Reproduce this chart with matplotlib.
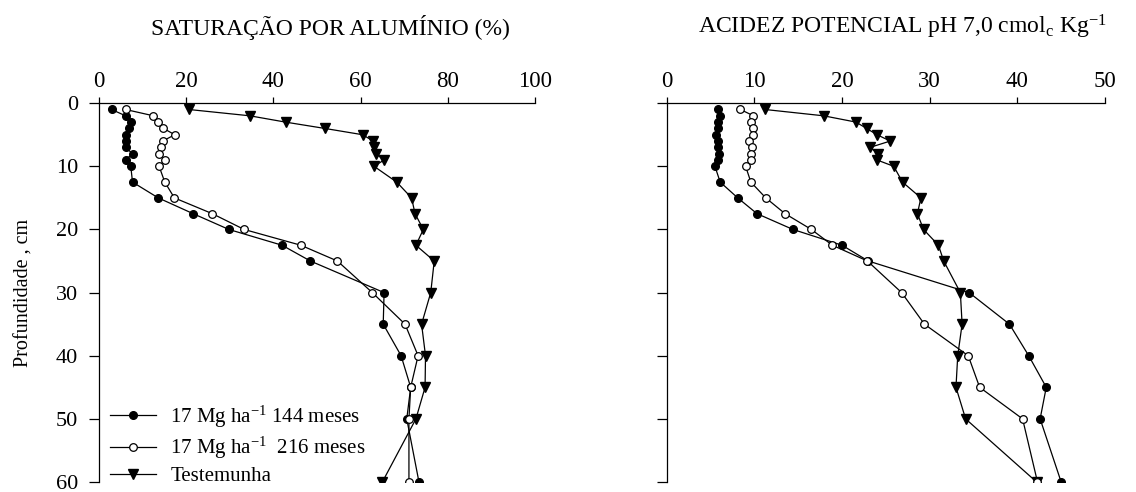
import matplotlib
matplotlib.use("Agg")
import matplotlib.pyplot as plt

plt.rcParams['font.family'] = ['Liberation Serif', 'DejaVu Serif']
plt.rcParams['mathtext.fontset'] = 'custom'
plt.rcParams['mathtext.rm'] = 'Liberation Serif'
plt.rcParams['mathtext.it'] = 'Liberation Serif:italic'

# profundidade (cm)
prof = [1, 2, 3, 4, 5, 6, 7, 8, 9, 10, 12.5, 15, 17.5, 20, 22.5, 25, 30, 35, 40, 45, 50, 60]

# saturação por alumínio (%)
sat_144 = [2.9, 6.1, 7.3, 7.0, 6.1, 6.3, 6.1, 7.7, 6.1, 7.3, 7.7, 13.6, 21.6, 29.8, 42.0, 48.5,
           65.4, 65.2, 69.3, 71.5, 70.6, 73.4]
sat_216 = [6.1, 12.5, 13.6, 14.8, 17.4, 14.6, 14.2, 13.8, 15.1, 13.8, 15.1, 17.3, 26.0, 33.3, 46.3, 54.7,
           62.7, 70.2, 73.2, 71.5, 71.1, 71.1]
sat_test = [20.6, 34.6, 42.8, 51.8, 60.5, 62.9, 63.1, 63.5, 65.4, 63.1, 68.3, 71.7, 72.5, 74.4, 72.7, 76.9,
            76.1, 74.0, 74.9, 74.8, 72.7, 65.0]

# acidez potencial pH 7,0 (cmolc/kg)
ac_144 = [5.8, 6.1, 5.9, 5.8, 5.6, 5.9, 5.9, 6.0, 5.8, 5.5, 6.1, 8.1, 10.3, 14.4, 20.0, 23.0,
          34.5, 39.1, 41.3, 43.3, 42.6, 45.0]
ac_216 = [8.4, 9.9, 9.6, 9.9, 9.8, 9.4, 9.7, 9.6, 9.6, 9.0, 9.6, 11.3, 13.5, 16.5, 18.9, 22.9,
          26.8, 29.4, 34.4, 35.7, 40.6, 42.3]
ac_test = [11.2, 17.9, 21.6, 22.8, 24.0, 25.5, 23.2, 24.1, 24.0, 25.9, 26.9, 29.0, 28.6, 29.3, 31.0, 31.6,
           33.5, 33.7, 33.2, 33.0, 34.1, 42.2]

rotulos = [r'17 Mg ha$^{\mathrm{-1}}$ 144 meses', r'17 Mg ha$^{\mathrm{-1}}$  216 meses', 'Testemunha']

fig = plt.figure(figsize=(11.36, 4.92), dpi=100)
ax1 = fig.add_axes([0.0871, 0.0203, 0.3838, 0.770])
ax2 = fig.add_axes([0.5869, 0.0203, 0.3858, 0.770])


def painel(ax, x144, x216, xtest, xmax, passo):
    lt, = ax.plot(xtest, prof, '-', color='black', lw=0.9, marker='v', ms=7,
                  mfc='black', mec='black', zorder=3)
    l1, = ax.plot(x144, prof, '-', color='black', lw=0.9, marker='o', ms=5.5,
                  mfc='black', mec='black', zorder=4)
    l2, = ax.plot(x216, prof, '-', color='black', lw=0.9, marker='o', ms=5.5,
                  mfc='white', mec='black', mew=0.9, zorder=5)
    ax.set_xlim(0, xmax)
    ax.set_ylim(60, 0)
    ax.set_xticks(range(0, xmax + 1, passo))
    ax.set_yticks(range(0, 61, 10))
    ax.xaxis.tick_top()
    ax.spines['bottom'].set_visible(False)
    ax.spines['right'].set_visible(False)
    for s in ('top', 'left'):
        ax.spines[s].set_linewidth(0.9)
    ax.tick_params(axis='x', direction='out', length=4, width=0.9, labelsize=16.5, pad=4)
    ax.tick_params(axis='y', direction='out', length=7, width=0.9, labelsize=16, pad=8)
    return l1, l2, lt


h = painel(ax1, sat_144, sat_216, sat_test, 100, 20)
painel(ax2, ac_144, ac_216, ac_test, 50, 10)
ax2.set_yticklabels([])

ax1.set_ylabel('Profundidade , cm', fontsize=14.5, labelpad=16)

fig.text(0.2905, 0.945, 'SATURAÇÃO POR ALUMÍNIO (%)', ha='center', va='center', fontsize=17)
fig.text(0.794, 0.945, r'ACIDEZ POTENCIAL pH 7,0 cmol$_{\mathrm{c}}$ Kg$^{\mathrm{-1}}$',
         ha='center', va='center', fontsize=17)

ax1.legend(h, rotulos, loc='lower left', bbox_to_anchor=(0.025, -0.01), frameon=False,
           fontsize=15, handlelength=2.2, handletextpad=0.7, labelspacing=0.25,
           borderpad=0, borderaxespad=0)

fig.savefig('out.png', dpi=100)
